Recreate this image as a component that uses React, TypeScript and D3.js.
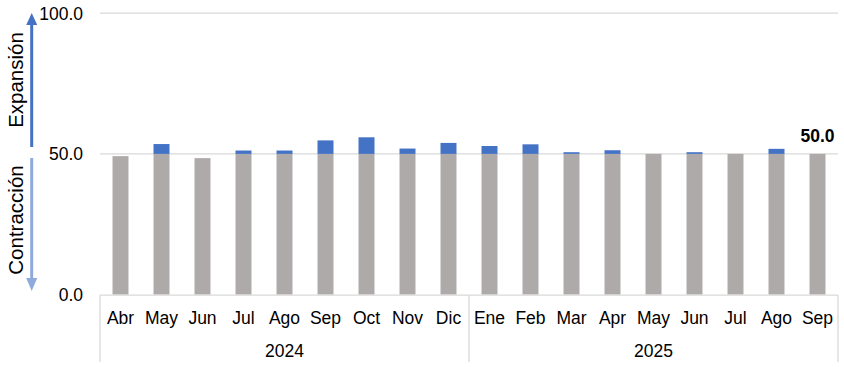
import React from "react";
import * as d3 from "d3";

const months = ["Abr","May","Jun","Jul","Ago","Sep","Oct","Nov","Dic","Ene","Feb","Mar","Apr","May","Jun","Jul","Ago","Sep"];
const years = ["2024","2025"];
const yearCounts = [9, 9];
const values = [49.2,53.5,48.5,51.2,51.2,54.8,55.9,51.9,53.9,52.8,53.4,50.6,51.3,50.0,50.6,50.0,51.8,50.0];
const yTicks = [0, 50, 100];
const threshold = 50;

const W = 844, H = 367;
const left = 100, right = 838, top = 13.2, bottom = 294.6;
const FONT = "'Liberation Sans', Arial, sans-serif";
const GRAY = "#AEAAAA";
const BLUE = "#4472C4";
const LIGHT = "#8FAADC";
const GRID = "#D9D9D9";
const FS = 17.5;

export default function App() {
  const idx = months.map((_, i) => String(i));
  const x = d3.scaleBand<string>().domain(idx).range([left, right]).paddingInner(0.61).paddingOuter(0.305);
  const y = d3.scaleLinear().domain([0, 100]).range([bottom, top]);
  const step = x.step();
  const bw = x.bandwidth();

  const bounds: number[] = [left];
  let acc = 0;
  yearCounts.forEach((c) => {
    acc += c;
    bounds.push(left + acc * step);
  });

  const ax = 31.7;

  return (
    <svg width={W} height={H} style={{ position: "absolute", left: 0, top: 0, background: "#fff" }} fontFamily={FONT}>
      {yTicks.filter((t) => t > 0).map((t) => (
        <line key={t} x1={left} x2={right} y1={y(t)} y2={y(t)} stroke={GRID} strokeWidth={1.3} />
      ))}
      {values.map((v, i) => {
        const bx = x(String(i))!;
        const g = Math.min(v, threshold);
        const b = Math.max(0, v - threshold);
        return (
          <g key={i}>
            <rect x={bx} width={bw} y={y(g)} height={y(0) - y(g)} fill={GRAY} />
            {b > 0 && <rect x={bx} width={bw} y={y(v)} height={y(threshold) - y(v)} fill={BLUE} />}
          </g>
        );
      })}
      <line x1={left} x2={right} y1={y(0) + 0.5} y2={y(0) + 0.5} stroke={GRID} strokeWidth={1.3} />
      {bounds.map((bx, i) => (
        <line key={i} x1={bx} x2={bx} y1={y(0) + 0.5} y2={362} stroke={GRID} strokeWidth={1.3} />
      ))}
      {yTicks.map((t) => (
        <text key={t} x={83} y={y(t)} dy="0.36em" textAnchor="end" fontSize={FS} fill="#000">
          {t.toFixed(1)}
        </text>
      ))}
      {months.map((m, i) => (
        <text key={i} x={x(String(i))! + bw / 2} y={324} textAnchor="middle" fontSize={FS} fill="#000">
          {m}
        </text>
      ))}
      {years.map((yr, i) => (
        <text key={yr} x={(bounds[i] + bounds[i + 1]) / 2} y={357} textAnchor="middle" fontSize={FS} fill="#000">
          {yr}
        </text>
      ))}
      <text
        x={x(String(values.length - 1))! + bw / 2}
        y={y(values[values.length - 1]) - 12}
        textAnchor="middle"
        fontSize={FS}
        fontWeight="bold"
        fill="#000"
      >
        {values[values.length - 1].toFixed(1)}
      </text>
      <line x1={ax} x2={ax} y1={147} y2={24} stroke={BLUE} strokeWidth={3} />
      <path d={`M${ax},13 L${ax - 5.5},25 L${ax + 5.5},25 Z`} fill={BLUE} />
      <line x1={ax} x2={ax} y1={158} y2={279} stroke={LIGHT} strokeWidth={3} />
      <path d={`M${ax},291 L${ax - 5.5},278 L${ax + 5.5},278 Z`} fill={LIGHT} />
      <text transform="rotate(-90)" x={-80} y={23} textAnchor="middle" fontSize={20.5} fill="#000">
        Expansión
      </text>
      <text transform="rotate(-90)" x={-220} y={23} textAnchor="middle" fontSize={20.5} fill="#000">
        Contracción
      </text>
    </svg>
  );
}
